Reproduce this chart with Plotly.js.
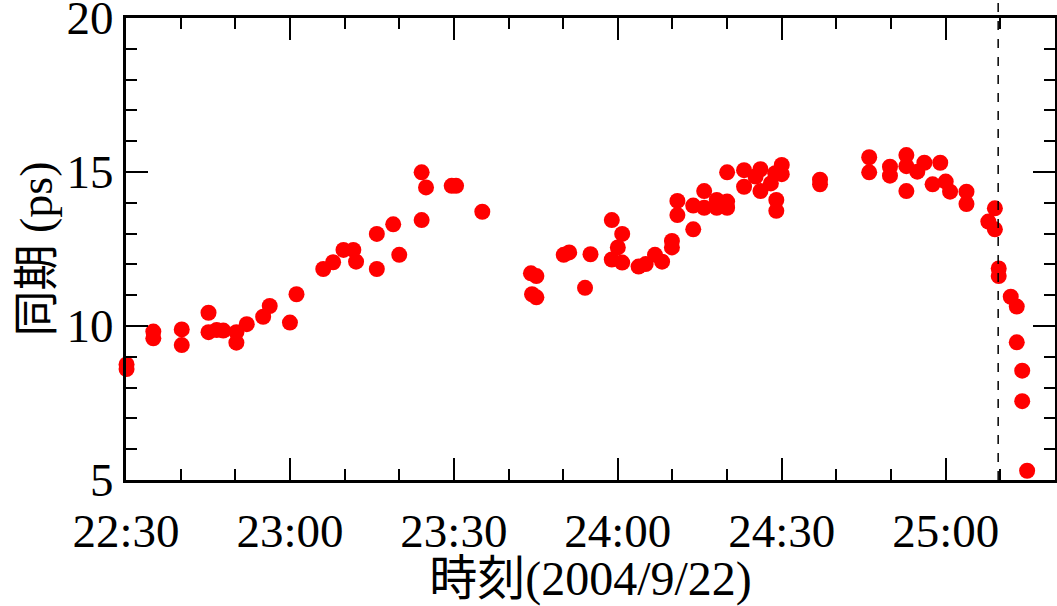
<!DOCTYPE html>
<html><head><meta charset="utf-8">
<script src="https://cdn.plot.ly/plotly-3.0.1.min.js"></script>
<style>html,body{margin:0;padding:0;background:#fff;}#chart{width:1057px;height:606px;}</style>
</head><body><div id="chart"></div>
<script>
// minutes after 22:30 on 2004/9/22
const minutesAfter2230 = [
  0.1, 0.1, 5.0, 5.0, 10.2, 10.2, 15.1, 15.1, 16.6, 17.8, 20.2, 20.2, 22.1, 25.1, 26.3,
  30.0, 31.2, 36.1, 37.9, 39.8, 41.6, 42.1, 45.9, 45.9, 48.9, 50.0, 54.1, 54.9, 54.1,
  59.6, 60.4, 65.2,
  74.1, 75.1, 74.3, 75.1, 80.1, 81.1, 84.0, 85.0, 88.9, 90.8, 90.0, 88.9, 90.8, 93.8,
  95.1, 96.8, 98.1, 99.9, 99.9, 100.9, 100.9, 103.8, 103.8, 105.8, 105.8, 108.1, 108.1,
  110.0, 110.0, 110.0, 113.1, 113.1, 116.1, 116.1, 115.2, 118.0, 118.8, 120.0, 120.0,
  119.0, 119.0, 127.0, 127.0, 136.0, 136.0, 139.8, 139.8, 142.8, 142.8, 142.8, 144.8,
  146.1, 147.6, 149.0, 150.0, 150.8, 153.8, 153.8, 159.0, 157.8, 159.0, 159.7, 159.7,
  161.9, 163.0, 163.0, 164.0, 164.0, 164.9
];
const periodPs = [
  8.60, 8.75, 9.82, 9.60, 9.89, 9.38, 10.43, 9.80, 9.87, 9.85, 9.80, 9.46, 10.06, 10.30, 10.65,
  10.11, 11.03, 11.85, 12.07, 12.47, 12.47, 12.09, 12.99, 11.85, 13.30, 12.31, 14.99, 14.50, 13.44,
  14.55, 14.55, 13.71,
  11.71, 11.62, 11.03, 10.93, 12.31, 12.39, 11.24, 12.33, 13.44, 12.99, 12.55, 12.16, 12.06, 11.93,
  12.01, 12.31, 12.09, 12.76, 12.55, 14.06, 13.60, 13.14, 13.91, 14.38, 13.84, 14.09, 13.84,
  14.04, 13.84, 14.99, 15.06, 14.52, 15.09, 14.38, 14.85, 14.63, 14.96, 15.23, 14.93,
  14.09, 13.74, 14.75, 14.60, 15.48, 14.99, 15.17, 14.88, 15.55, 15.19, 14.38, 15.01,
  15.30, 14.60, 15.30, 14.69, 14.36, 14.36, 13.96, 13.82, 13.39, 13.14, 11.87, 11.62,
  10.95, 10.63, 9.47, 8.55, 7.56, 5.30
];
const xTickVals = [0, 30, 60, 90, 120, 150];
const xTickText = ["22:30", "23:00", "23:30", "24:00", "24:30", "25:00"];
const yTickVals = [5, 10, 15, 20];
const markerLineX = 159.6;

const serif = "Liberation Serif, Times New Roman, Noto Sans CJK JP, serif";

const points = {
  x: minutesAfter2230, y: periodPs, type: 'scatter', mode: 'markers',
  marker: {color: '#ff0000', size: 16},
  cliponaxis: false, showlegend: false
};

const layout = {
  width: 1057, height: 606,
  margin: {l: 126, r: 2, t: 18, b: 126},
  xaxis: {
    showgrid: false, zeroline: false, showline: true, linecolor: '#000', linewidth: 3,
    mirror: 'ticks', ticks: 'inside', ticklen: 22, tickwidth: 2, tickcolor: '#000',
    tickfont: {family: serif, size: 47, color: '#000'}, ticklabeloverflow: 'allow',
    ticklabelstandoff: 8,
    range: [0, 170], tickmode: 'array', tickvals: xTickVals, ticktext: xTickText,
    minor: {dtick: 10, ticks: 'inside', ticklen: 11},
    title: {text: '時刻(2004/9/22)', font: {family: serif, size: 48, color: '#000'}, standoff: 10}
  },
  yaxis: {
    showgrid: false, zeroline: false, showline: true, linecolor: '#000', linewidth: 3,
    mirror: 'ticks', ticks: 'inside', ticklen: 22, tickwidth: 2, tickcolor: '#000',
    tickfont: {family: serif, size: 47, color: '#000'}, ticklabeloverflow: 'allow',
    range: [5, 20], tickmode: 'array', tickvals: yTickVals,
    minor: {dtick: 1, ticks: 'inside', ticklen: 11},
    title: {text: '同期 (ps)', font: {family: serif, size: 46, color: '#000'}, standoff: 0}
  },
  shapes: [{
    type: 'line', xref: 'x', yref: 'paper', x0: markerLineX, x1: markerLineX, y0: 0, y1: 1.045,
    line: {color: '#000', width: 1.5, dash: 'dash'}
  }]
};

Plotly.newPlot('chart', [points], layout, {displayModeBar: false}).then(function (gd) {
  // bring Plotly's own tick paths to the top layer so they are painted above everything
  const svgs = gd.querySelectorAll('svg.main-svg');
  const top = svgs[svgs.length - 1];
  const g = document.createElementNS('http://www.w3.org/2000/svg', 'g');
  gd.querySelectorAll('path.xtick, path.ytick').forEach(function (p) {
    const c = p.cloneNode(true);
    c.setAttribute('style', 'stroke:#000;stroke-opacity:1;stroke-width:2px;fill:none;opacity:1;visibility:visible;display:inline');
    g.appendChild(c);
  });
  top.appendChild(g);
});
</script>
</body></html>
